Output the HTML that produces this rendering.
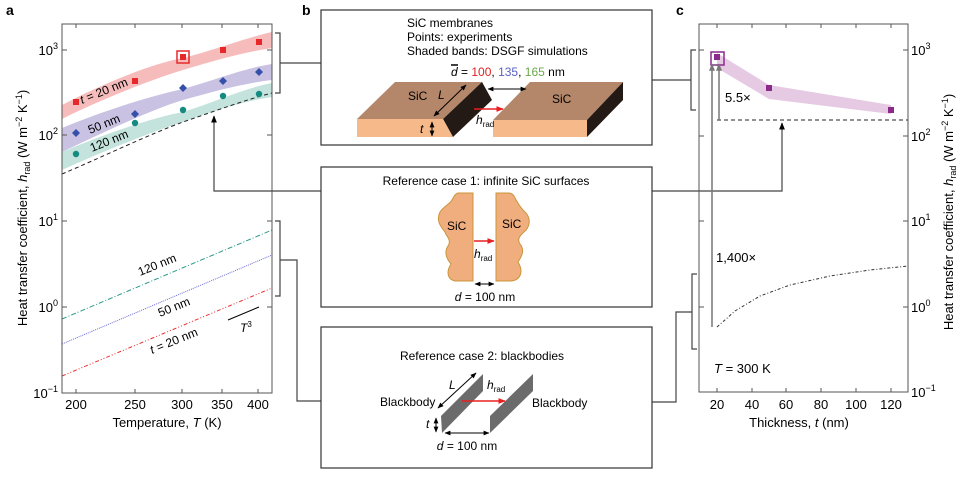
<!DOCTYPE html>
<html><head><meta charset="utf-8"><style>
body{margin:0;background:#fff}
svg{display:block;font-family:"Liberation Sans",sans-serif}
</style></head><body>
<svg width="968" height="481" viewBox="0 0 968 481" xmlns="http://www.w3.org/2000/svg">
<defs>
<marker id="ah" viewBox="0 0 10 10" refX="9" refY="5" markerWidth="6" markerHeight="6" orient="auto-start-reverse"><path d="M0,1 L10,5 L0,9 z" fill="#000"/></marker>
<marker id="ahr" viewBox="0 0 10 10" refX="9" refY="5" markerWidth="5" markerHeight="5" orient="auto"><path d="M0,1 L10,5 L0,9 z" fill="#e82020"/></marker>
<marker id="ahg" viewBox="0 0 10 10" refX="9" refY="5" markerWidth="5" markerHeight="5" orient="auto"><path d="M0,1 L10,5 L0,9 z" fill="#777"/></marker>
</defs>
<g font-weight="bold" font-size="14"><text x="6" y="15">a</text><text x="302" y="15">b</text><text x="676" y="15">c</text></g>

<!-- Panel a -->
<path d="M62,105 C100,85 150,64 183,58 C215,50 245,38 272,32 L272,48 C245,52 215,60 183,70 C150,80 100,100 62,119 Z" fill="#f6bcbc"/>
<path d="M62,128 C100,112 150,96 183,89 C215,80 245,68 272,64 L272,80 C245,83 215,91 183,100 C150,110 100,134 62,152 Z" fill="#c9c2e3"/>
<path d="M62,152 C100,136 150,118 183,112 C215,102 245,88 272,83 L272,97 C245,101 215,110 183,122 C150,132 100,153 62,170 Z" fill="#c3e3dc"/>
<path d="M62,174 C100,158 150,134 183,122 C215,111 245,100 272,93" fill="none" stroke="#222" stroke-dasharray="4,3"/>
<g fill="#e82828"><rect x="73" y="99" width="6" height="6"/><rect x="132" y="78" width="6" height="6"/><rect x="180" y="54" width="6" height="6"/><rect x="220" y="47" width="6" height="6"/><rect x="256" y="39" width="6" height="6"/></g>
<rect x="177" y="51" width="12" height="12" fill="none" stroke="#e82828" stroke-width="1.5"/>
<g fill="#3550a8"><path d="M76,129l4,4l-4,4l-4,-4z"/><path d="M135,110l4,4l-4,4l-4,-4z"/><path d="M183,84l4,4l-4,4l-4,-4z"/><path d="M223,77l4,4l-4,4l-4,-4z"/><path d="M259,68l4,4l-4,4l-4,-4z"/></g>
<g fill="#148a80"><circle cx="76" cy="154" r="3.2"/><circle cx="135" cy="123" r="3.2"/><circle cx="183" cy="110" r="3.2"/><circle cx="223" cy="96" r="3.2"/><circle cx="259" cy="94" r="3.2"/></g>
<g font-size="12"><text transform="translate(82,104) rotate(-22)"><tspan font-style="italic">t</tspan> = 20 nm</text>
<text transform="translate(90,134) rotate(-22)">50 nm</text>
<text transform="translate(92,152) rotate(-22)">120 nm</text></g>
<line x1="62" y1="319" x2="272" y2="230" stroke="#2a9a8a" stroke-dasharray="5,2,1,2"/>
<line x1="62" y1="344" x2="272" y2="255" stroke="#6a6ad8" stroke-dasharray="1,1"/>
<line x1="62" y1="376" x2="272" y2="288" stroke="#e83030" stroke-dasharray="4,2,1,2,1,2"/>
<line x1="228" y1="320" x2="259" y2="307" stroke="#000"/>
<text x="240" y="332" font-size="12"><tspan font-style="italic">T</tspan><tspan font-size="8" dy="-5">3</tspan></text>
<g font-size="12"><text transform="translate(140,276) rotate(-22)">120 nm</text>
<text transform="translate(160,317) rotate(-22)">50 nm</text>
<text transform="translate(152,354) rotate(-22)"><tspan font-style="italic">t</tspan> = 20 nm</text></g>
<rect x="62" y="24" width="210" height="369" fill="none" stroke="#555"/>
<g stroke="#555"><line x1="76" y1="393" x2="76" y2="389"/><line x1="135" y1="393" x2="135" y2="389"/><line x1="182" y1="393" x2="182" y2="389"/><line x1="222" y1="393" x2="222" y2="389"/><line x1="258" y1="393" x2="258" y2="389"/>
<line x1="76" y1="24" x2="76" y2="28"/><line x1="135" y1="24" x2="135" y2="28"/><line x1="182" y1="24" x2="182" y2="28"/><line x1="222" y1="24" x2="222" y2="28"/><line x1="258" y1="24" x2="258" y2="28"/>
<line x1="62" y1="50" x2="67" y2="50"/><line x1="62" y1="135" x2="67" y2="135"/><line x1="62" y1="221" x2="67" y2="221"/><line x1="62" y1="307" x2="67" y2="307"/>
<line x1="272" y1="50" x2="267" y2="50"/><line x1="272" y1="135" x2="267" y2="135"/><line x1="272" y1="221" x2="267" y2="221"/><line x1="272" y1="307" x2="267" y2="307"/></g>
<g font-size="13" text-anchor="end"><text x="58" y="55">10<tspan font-size="9" dy="-6">3</tspan></text><text x="58" y="140">10<tspan font-size="9" dy="-6">2</tspan></text><text x="58" y="226">10<tspan font-size="9" dy="-6">1</tspan></text><text x="58" y="312">10<tspan font-size="9" dy="-6">0</tspan></text><text x="58" y="398">10<tspan font-size="9" dy="-6">−1</tspan></text></g>
<g font-size="13" text-anchor="middle"><text x="76" y="409">200</text><text x="135" y="409">250</text><text x="182" y="409">300</text><text x="222" y="409">350</text><text x="258" y="409">400</text>
<text x="167" y="427">Temperature, <tspan font-style="italic">T</tspan> (K)</text></g>
<text transform="translate(27,208) rotate(-90)" font-size="13" text-anchor="middle">Heat transfer coefficient, <tspan font-style="italic">h</tspan><tspan font-size="9" dy="3">rad</tspan><tspan dy="-3"> (W m</tspan><tspan font-size="9" dy="-5">−2</tspan><tspan dy="5"> K</tspan><tspan font-size="9" dy="-5">−1</tspan><tspan dy="5">)</tspan></text>

<!-- connectors -->
<g fill="none" stroke="#444" stroke-width="1.2">
<path d="M275,33 H280 V93 H275"/><line x1="280" y1="63" x2="321" y2="63"/>
<path d="M275,221 H280 V296 H275"/><path d="M280,260 H297 V401 H321"/>
<path d="M321,191 H214 V116" marker-end="url(#ah)"/>
<path d="M696,50 H691 V110 H696"/><line x1="652" y1="80" x2="691" y2="80"/>
<path d="M652,191 H782 V123" marker-end="url(#ah)"/>
<path d="M697,274 H692 V349 H697"/><path d="M652,402 H676 V312 H692"/>
</g>

<!-- Box 1 -->
<rect x="321" y="10" width="331" height="135" fill="#fff" stroke="#333" stroke-width="1.2"/>
<g font-size="12"><text x="407" y="27">SiC membranes</text><text x="407" y="41">Points: experiments</text><text x="407" y="55">Shaded bands: DSGF simulations</text>
<text x="451" y="76"><tspan font-style="italic">d</tspan> = <tspan fill="#e02020">100</tspan>, <tspan fill="#5a62c0">135</tspan>, <tspan fill="#6aa84a">165</tspan> nm</text></g>
<line x1="451" y1="65" x2="458" y2="65" stroke="#000" stroke-width="1.5"/>
<polygon points="357,119 395,82 482,82 443,119" fill="#b5876a"/>
<polygon points="482,82 492,100 453,137 443,119" fill="#231a15"/>
<polygon points="357,119 443,119 453,137 357,137" fill="#f6b98a"/>
<polygon points="493,120 530,82 623,82 587,120" fill="#b5876a"/>
<polygon points="623,82 623,100 587,137 587,120" fill="#231a15"/>
<polygon points="493,120 587,120 587,137 493,137" fill="#f6b98a"/>
<g font-size="12"><text x="408" y="100">SiC</text><text x="552" y="103">SiC</text><text x="438" y="99" font-style="italic">L</text><text x="420" y="133" font-style="italic">t</text><text x="476" y="124" font-style="italic">h<tspan font-size="8" dy="3" font-style="normal">rad</tspan></text></g>
<line x1="434" y1="116" x2="466" y2="85" stroke="#000" marker-end="url(#ah)" marker-start="url(#ah)"/>
<line x1="432" y1="122" x2="432" y2="136" stroke="#000" marker-end="url(#ah)" marker-start="url(#ah)"/>
<line x1="488" y1="89" x2="526" y2="89" stroke="#000" marker-end="url(#ah)" marker-start="url(#ah)"/>
<line x1="474" y1="109" x2="503" y2="109" stroke="#e82020" stroke-width="1.5" marker-end="url(#ahr)"/>

<!-- Box 2 -->
<rect x="321" y="167" width="331" height="140" fill="#fff" stroke="#333" stroke-width="1.2"/>
<text x="486" y="185" font-size="12" text-anchor="middle">Reference case 1: infinite SiC surfaces</text>
<path d="M473,193 V281 H455 C446,279 447,270 451,264 C446,258 444,252 448,246 C452,240 446,236 445,232 C440,226 436,220 440,212 C444,206 450,204 452,200 C454,196 456,193 458,193 Z" fill="#f0ae7e" stroke="#c8953a"/>
<path d="M496,193 V281 H512 C522,279 523,270 518,262 C522,256 525,250 520,244 C516,238 522,234 526,230 C531,224 530,216 524,211 C519,206 516,200 514,196 C512,193 510,193 508,193 Z" fill="#f0ae7e" stroke="#c8953a"/>
<g font-size="12"><text x="447" y="230">SiC</text><text x="502" y="228">SiC</text><text x="474" y="258" font-style="italic">h<tspan font-size="8" dy="3" font-style="normal">rad</tspan></text><text x="485" y="301" text-anchor="middle"><tspan font-style="italic">d</tspan> = 100 nm</text></g>
<line x1="474" y1="241" x2="494" y2="241" stroke="#e82020" stroke-width="1.5" marker-end="url(#ahr)"/>
<line x1="475" y1="284" x2="494" y2="284" stroke="#000" marker-end="url(#ah)" marker-start="url(#ah)"/>

<!-- Box 3 -->
<rect x="321" y="327" width="331" height="141" fill="#fff" stroke="#333" stroke-width="1.2"/>
<text x="482" y="360" font-size="12" text-anchor="middle">Reference case 2: blackbodies</text>
<polygon points="441,416 483,374 483,391 442,433" fill="#6b6b6b"/>
<polygon points="490,416 533,374 533,391 490,433" fill="#6b6b6b"/>
<line x1="438" y1="408" x2="476" y2="373" stroke="#000" marker-end="url(#ah)" marker-start="url(#ah)"/>
<line x1="462" y1="401" x2="505" y2="401" stroke="#e82020" stroke-width="1.5" marker-end="url(#ahr)"/>
<line x1="436" y1="418" x2="436" y2="432" stroke="#000" marker-end="url(#ah)" marker-start="url(#ah)"/>
<line x1="445" y1="433" x2="489" y2="433" stroke="#000" marker-end="url(#ah)" marker-start="url(#ah)"/>
<g font-size="12"><text x="449" y="389" font-style="italic">L</text><text x="487" y="389" font-style="italic">h<tspan font-size="8" dy="3" font-style="normal">rad</tspan></text>
<text x="380" y="406">Blackbody</text><text x="532" y="407">Blackbody</text><text x="426" y="428" font-style="italic">t</text><text x="467" y="450" text-anchor="middle"><tspan font-style="italic">d</tspan> = 100 nm</text></g>

<!-- Panel c -->
<polygon points="717,53 769,85 891,105 891,114 769,99 717,68" fill="#e6c9e3"/>
<line x1="717" y1="120" x2="908" y2="120" stroke="#222" stroke-dasharray="4,3"/>
<g fill="#8a2a8a"><rect x="714" y="54" width="6" height="6"/><rect x="766" y="85" width="6" height="6"/><rect x="888" y="107" width="6" height="6"/></g>
<rect x="711" y="52" width="13" height="13" fill="none" stroke="#8a2a8a" stroke-width="1.5"/>
<line x1="712" y1="327" x2="712" y2="64" stroke="#777" stroke-width="1.5" marker-end="url(#ahg)"/>
<line x1="719" y1="120" x2="719" y2="64" stroke="#777" stroke-width="1.5" marker-end="url(#ahg)"/>
<polyline points="717,327 735,311 760,296 790,285 830,276 870,270 908,266" fill="none" stroke="#333" stroke-dasharray="3,2,1,2"/>
<g font-size="13"><text x="725" y="102">5.5×</text><text x="716" y="262">1,400×</text><text x="714" y="373"><tspan font-style="italic">T</tspan> = 300 K</text></g>
<rect x="699" y="24" width="209" height="368" fill="none" stroke="#555"/>
<g stroke="#555"><line x1="908" y1="50" x2="903" y2="50"/><line x1="908" y1="136" x2="903" y2="136"/><line x1="908" y1="221" x2="903" y2="221"/><line x1="908" y1="307" x2="903" y2="307"/>
<line x1="699" y1="50" x2="704" y2="50"/><line x1="699" y1="136" x2="704" y2="136"/><line x1="699" y1="221" x2="704" y2="221"/><line x1="699" y1="307" x2="704" y2="307"/>
<line x1="717" y1="392" x2="717" y2="388"/><line x1="752" y1="392" x2="752" y2="388"/><line x1="786" y1="392" x2="786" y2="388"/><line x1="821" y1="392" x2="821" y2="388"/><line x1="856" y1="392" x2="856" y2="388"/><line x1="891" y1="392" x2="891" y2="388"/>
<line x1="717" y1="24" x2="717" y2="28"/><line x1="752" y1="24" x2="752" y2="28"/><line x1="786" y1="24" x2="786" y2="28"/><line x1="821" y1="24" x2="821" y2="28"/><line x1="856" y1="24" x2="856" y2="28"/><line x1="891" y1="24" x2="891" y2="28"/></g>
<g font-size="13"><text x="911" y="55">10<tspan font-size="9" dy="-6">3</tspan></text><text x="911" y="141">10<tspan font-size="9" dy="-6">2</tspan></text><text x="911" y="226">10<tspan font-size="9" dy="-6">1</tspan></text><text x="911" y="312">10<tspan font-size="9" dy="-6">0</tspan></text><text x="911" y="397">10<tspan font-size="9" dy="-6">−1</tspan></text></g>
<g font-size="13" text-anchor="middle"><text x="717" y="409">20</text><text x="752" y="409">40</text><text x="786" y="409">60</text><text x="821" y="409">80</text><text x="856" y="409">100</text><text x="891" y="409">120</text>
<text x="799" y="427">Thickness, <tspan font-style="italic">t</tspan> (nm)</text></g>
<text transform="translate(953,212) rotate(-90)" font-size="13" text-anchor="middle">Heat transfer coefficient, <tspan font-style="italic">h</tspan><tspan font-size="9" dy="3">rad</tspan><tspan dy="-3"> (W m</tspan><tspan font-size="9" dy="-5">−2</tspan><tspan dy="5"> K</tspan><tspan font-size="9" dy="-5">−1</tspan><tspan dy="5">)</tspan></text>
</svg>
</body></html>
